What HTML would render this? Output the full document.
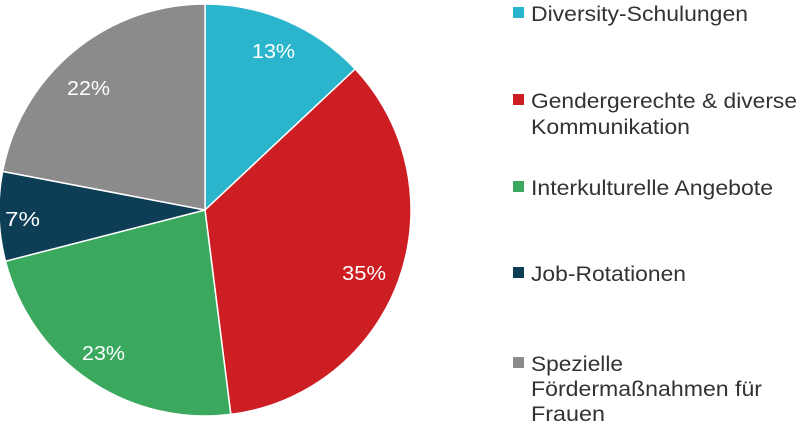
<!DOCTYPE html>
<html><head><meta charset="utf-8"><style>
html,body{margin:0;padding:0;background:#fff;}
svg{display:block;}
text{font-family:"Liberation Sans",Arial,sans-serif;}
</style></head><body>
<svg width="800" height="426" viewBox="0 0 800 426" xmlns="http://www.w3.org/2000/svg">
<g stroke="#fff" stroke-width="1.5">
<path d="M205,210 L205,4 A206,206 0 0 1 355.2,69 Z" fill="#2ab5cd"/>
<path d="M205,210 L355.2,69 A206,206 0 0 1 230.8,414.4 Z" fill="#cc1e23"/>
<path d="M205,210 L230.8,414.4 A206,206 0 0 1 5.5,261.2 Z" fill="#3aa95e"/>
<path d="M205,210 L5.5,261.2 A206,206 0 0 1 2.6,171.4 Z" fill="#0e3e55"/>
<path d="M205,210 L2.6,171.4 A206,206 0 0 1 205,4 Z" fill="#8b8b8b"/>
</g>
<g fill="#fff" font-size="20">
<text x="252" y="58" textLength="43" lengthAdjust="spacingAndGlyphs">13%</text>
<text x="342" y="280" textLength="44" lengthAdjust="spacingAndGlyphs">35%</text>
<text x="82" y="360" textLength="43" lengthAdjust="spacingAndGlyphs">23%</text>
<text x="5" y="226" textLength="35" lengthAdjust="spacingAndGlyphs">7%</text>
<text x="67" y="95" textLength="43" lengthAdjust="spacingAndGlyphs">22%</text>
</g>
<g font-size="21" fill="#333">
<rect x="513" y="7" width="11" height="11" fill="#2ab5cd"/>
<text x="531" y="21" textLength="217" lengthAdjust="spacingAndGlyphs">Diversity-Schulungen</text>
<rect x="513" y="94" width="11" height="11" fill="#cc1e23"/>
<text x="531" y="108" textLength="266" lengthAdjust="spacingAndGlyphs">Gendergerechte &amp; diverse</text>
<text x="531" y="134" textLength="159" lengthAdjust="spacingAndGlyphs">Kommunikation</text>
<rect x="513" y="181" width="11" height="11" fill="#3aa95e"/>
<text x="531" y="195" textLength="242" lengthAdjust="spacingAndGlyphs">Interkulturelle Angebote</text>
<rect x="513" y="267" width="11" height="11" fill="#0e3e55"/>
<text x="531" y="281" textLength="155" lengthAdjust="spacingAndGlyphs">Job-Rotationen</text>
<rect x="513" y="357" width="11" height="11" fill="#8b8b8b"/>
<text x="531" y="371" textLength="92" lengthAdjust="spacingAndGlyphs">Spezielle</text>
<text x="531" y="396" textLength="231" lengthAdjust="spacingAndGlyphs">Fördermaßnahmen für</text>
<text x="531" y="421" textLength="74" lengthAdjust="spacingAndGlyphs">Frauen</text>
</g>
</svg>
</body></html>
